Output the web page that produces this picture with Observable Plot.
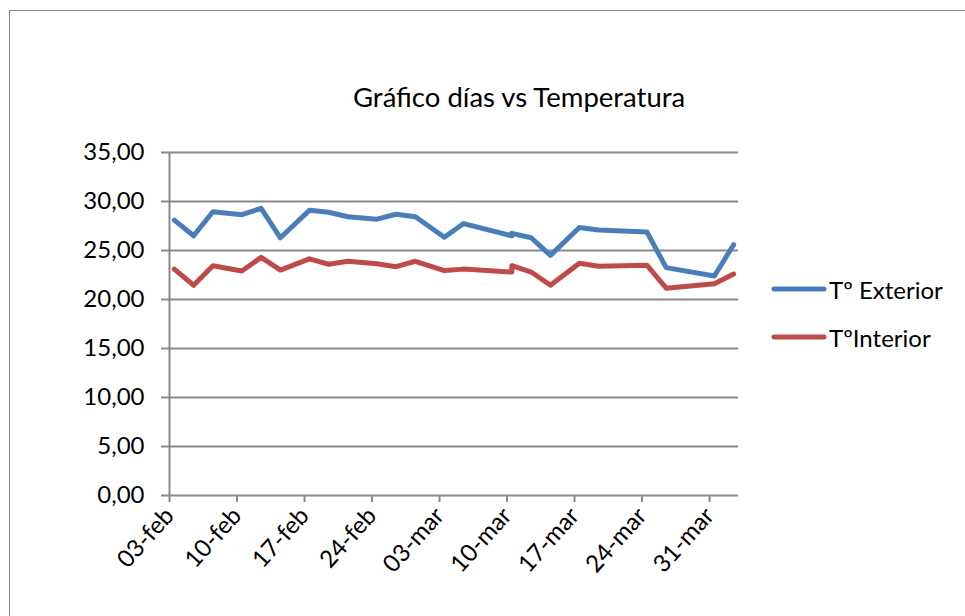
<!DOCTYPE html>
<html><head><meta charset="utf-8">
<script src="https://cdn.jsdelivr.net/npm/d3@7"></script>
<script src="https://cdn.jsdelivr.net/npm/@observablehq/plot@0.6"></script>
<style>
html,body{margin:0;padding:0;background:#fff;overflow:hidden;}
#wrap{position:relative;width:965px;height:616px;font-family:Lato,"Open Sans",sans-serif;color:#000;}
#frame{position:absolute;left:9px;top:10px;width:1000px;height:700px;border:1.5px solid #898989;box-sizing:border-box;}
#title{position:absolute;left:353px;top:80px;font-size:27.5px;white-space:nowrap;}
#legend{position:absolute;left:771px;top:265px;font-size:24px;}
.item{display:flex;align-items:center;height:48px;}
.item svg{margin-right:2px;}
#chart{position:absolute;left:0;top:0;}
</style></head>
<body><div id="wrap"><div id="frame"></div><div id="chart"></div><div id="title"></div><div id="legend"></div></div>
<script>
const dates = ["2014-02-03","2014-02-05","2014-02-07","2014-02-10","2014-02-12","2014-02-14","2014-02-17","2014-02-19","2014-02-21","2014-02-24","2014-02-26","2014-02-28","2014-03-03","2014-03-05","2014-03-10","2014-03-10","2014-03-12","2014-03-14","2014-03-17","2014-03-19","2014-03-24","2014-03-26","2014-03-31","2014-04-02"];
const exterior = [28.1,26.5,28.95,28.65,29.3,26.3,29.1,28.9,28.45,28.2,28.7,28.45,26.35,27.75,26.5,26.75,26.3,24.5,27.35,27.1,26.9,23.25,22.4,25.6];
const interior = [23.1,21.45,23.45,22.9,24.3,23.0,24.15,23.6,23.9,23.65,23.35,23.9,22.95,23.1,22.8,23.45,22.8,21.45,23.7,23.4,23.5,21.15,21.6,22.6];
const seriesNames = ["Tº Exterior","TºInterior"];
const seriesColors = ["#4A7EBB","#BE4B48"];
const yTicks = [0,5,10,15,20,25,30,35];
const xTickDates = ["2014-02-03","2014-02-10","2014-02-17","2014-02-24","2014-03-03","2014-03-10","2014-03-17","2014-03-24","2014-03-31"];
const xDomain = ["2014-02-03","2014-04-03"];
const monthsEs = ["ene","feb","mar","abr","may","jun","jul","ago","sep","oct","nov","dic"];
const titleText = "Gráfico días vs Temperatura";

const rows = [];
dates.forEach((d,i)=>{
  rows.push({date:new Date(d), serie:seriesNames[0], value:exterior[i]});
});
dates.forEach((d,i)=>{
  rows.push({date:new Date(d), serie:seriesNames[1], value:interior[i]});
});
const halfDay = 12*3600*1000;
const fmtX = d => String(d.getUTCDate()).padStart(2,"0") + "-" + monthsEs[d.getUTCMonth()];
const fmtY = d => d.toFixed(2).replace(".", ",");
const grid = "#898989";

const chart = Plot.plot({
  width:965, height:616,
  marginLeft:169, marginRight:227, marginTop:152, marginBottom:121,
  x:{type:"utc", domain:xDomain.map(d=>new Date(d))},
  y:{domain:[0,35]},
  color:{domain:seriesNames, range:seriesColors},
  style:{fontFamily:"Lato, 'Open Sans', sans-serif", fontSize:"24px", color:"#000", background:"transparent", overflow:"visible"},
  marks:[
    Plot.ruleY(yTicks,{stroke:grid, strokeWidth:2, strokeOpacity:1}),
    Plot.ruleX([new Date(xDomain[0])],{stroke:grid, strokeWidth:2, strokeOpacity:1}),
    Plot.axisY({ticks:yTicks, tickSize:8, tickPadding:17, tickFormat:fmtY, label:null, stroke:grid, strokeWidth:2, strokeOpacity:1, fill:"#000", fontSize:24}),
    Plot.axisX({ticks:xTickDates.map(d=>new Date(d)), tickSize:7, tickPadding:9, tickRotate:-48, tickFormat:fmtX, label:null, stroke:grid, strokeWidth:2, strokeOpacity:1, fill:"#000", fontSize:24}),
    Plot.line(rows,{x:d=>new Date(+d.date + halfDay), y:"value", z:"serie", stroke:"serie", strokeWidth:5, strokeLinejoin:"round", strokeLinecap:"round"})
  ]
});
document.getElementById("chart").appendChild(chart);
document.getElementById("title").textContent = titleText;
const legend = document.getElementById("legend");
seriesNames.forEach((name,i)=>{
  const it = document.createElement("div"); it.className="item";
  it.innerHTML = `<svg width="56" height="8"><line x1="3" y1="4" x2="53" y2="4" stroke="${seriesColors[i]}" stroke-width="5" stroke-linecap="round"/></svg><span></span>`;
  it.querySelector("span").textContent = name;
  legend.appendChild(it);
});
</script></body></html>
